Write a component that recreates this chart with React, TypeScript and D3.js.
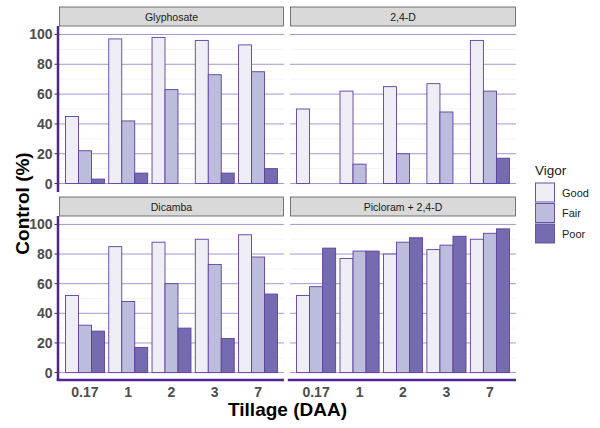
import React, { useEffect, useRef } from "react";
import { select, scaleBand, scaleLinear, scaleOrdinal, range } from "d3";

const W = 600;
const H = 428;

const TILLAGE = ["0.17", "1", "2", "3", "7"];
const VIGOR = ["Good", "Fair", "Poor"];
const HERBICIDES = ["Glyphosate", "2,4-D", "Dicamba", "Picloram + 2,4-D"];

// control (%) per herbicide, one array per vigor class, in TILLAGE order
const GLYPHOSATE_GOOD = [45, 97, 98, 96, 93];
const GLYPHOSATE_FAIR = [22, 42, 63, 73, 75];
const GLYPHOSATE_POOR = [3, 7, 0, 7, 10];

const D24_GOOD = [50, 62, 65, 67, 96];
const D24_FAIR = [0, 13, 20, 48, 62];
const D24_POOR = [0, 0, 0, 0, 17];

const DICAMBA_GOOD = [52, 85, 88, 90, 93];
const DICAMBA_FAIR = [32, 48, 60, 73, 78];
const DICAMBA_POOR = [28, 17, 30, 23, 53];

const PICLORAM_GOOD = [52, 77, 80, 83, 90];
const PICLORAM_FAIR = [58, 82, 88, 86, 94];
const PICLORAM_POOR = [84, 82, 91, 92, 97];

const Y_TICKS = [0, 20, 40, 60, 80, 100];
const Y_MINOR = [10, 30, 50, 70, 90];

const SERIES: Record<string, number[][]> = {
  Glyphosate: [GLYPHOSATE_GOOD, GLYPHOSATE_FAIR, GLYPHOSATE_POOR],
  "2,4-D": [D24_GOOD, D24_FAIR, D24_POOR],
  Dicamba: [DICAMBA_GOOD, DICAMBA_FAIR, DICAMBA_POOR],
  "Picloram + 2,4-D": [PICLORAM_GOOD, PICLORAM_FAIR, PICLORAM_POOR],
};

const COLS = [
  [59, 284],
  [290, 516],
];
const ROWS = [
  { strip: 7, top: 27, bottom: 191 },
  { strip: 197, top: 217, bottom: 380 },
];
const AXIS = "#4f2390";
const FONT = "'Liberation Sans', Arial, sans-serif";

export default function App() {
  const ref = useRef<SVGSVGElement>(null);

  useEffect(() => {
    if (!ref.current) return;
    const svg = select(ref.current);
    svg.selectAll("*").remove();

    const fill = scaleOrdinal<string, string>()
      .domain(VIGOR)
      .range(["#efedf5", "#bcbddc", "#756bb1"]);

    HERBICIDES.forEach((herb, i) => {
      const [x0, x1] = COLS[i % 2];
      const row = ROWS[Math.floor(i / 2)];
      const x = scaleBand<string>()
        .domain(TILLAGE)
        .range([x0, x1])
        .paddingInner(0.1)
        .paddingOuter(0.15);
      const xv = scaleBand<string>().domain(VIGOR).range([0, x.bandwidth()]);
      const y = scaleLinear().domain([-5, 105]).range([row.bottom, row.top]);

      const g = svg.append("g");

      // strip
      g.append("rect")
        .attr("x", x0 + 0.5)
        .attr("y", row.strip)
        .attr("width", x1 - x0 - 1)
        .attr("height", row.top - row.strip - 1)
        .attr("fill", "#d9d9d9")
        .attr("stroke", "#555")
        .attr("stroke-width", 0.8);
      g.append("text")
        .attr("x", (x0 + x1) / 2)
        .attr("y", (row.strip + row.top) / 2 + 3.5)
        .attr("text-anchor", "middle")
        .attr("font-family", FONT)
        .attr("font-size", "10.5px")
        .attr("fill", "#1a1a1a")
        .text(herb);

      // grid
      g.selectAll("line.minor")
        .data(Y_MINOR)
        .join("line")
        .attr("x1", x0)
        .attr("x2", x1)
        .attr("y1", (d) => y(d))
        .attr("y2", (d) => y(d))
        .attr("stroke", "#ece9f4")
        .attr("stroke-width", 0.6);
      g.selectAll("line.major")
        .data(Y_TICKS)
        .join("line")
        .attr("x1", x0)
        .attr("x2", x1)
        .attr("y1", (d) => y(d))
        .attr("y2", (d) => y(d))
        .attr("stroke", "#a597d2")
        .attr("stroke-width", 1);

      // bars
      SERIES[herb].forEach((vals, vi) => {
        g.selectAll(`rect.bar${vi}`)
          .data(range(TILLAGE.length))
          .join("rect")
          .attr("x", (j) => (x(TILLAGE[j]) ?? 0) + (xv(VIGOR[vi]) ?? 0))
          .attr("y", (j) => y(vals[j]))
          .attr("width", xv.bandwidth())
          .attr("height", (j) => y(0) - y(vals[j]))
          .attr("fill", fill(VIGOR[vi]))
          .attr("stroke", "#5f3f9e")
          .attr("stroke-width", 0.9);
      });

      // left axis on first column
      if (i % 2 === 0) {
        g.append("line")
          .attr("x1", x0 - 1)
          .attr("x2", x0 - 1)
          .attr("y1", row.top - 1)
          .attr("y2", row.bottom + 1)
          .attr("stroke", AXIS)
          .attr("stroke-width", 2.5);
        g.selectAll("line.ytick")
          .data(Y_TICKS)
          .join("line")
          .attr("x1", x0 - 4.5)
          .attr("x2", x0 - 2)
          .attr("y1", (d) => y(d))
          .attr("y2", (d) => y(d))
          .attr("stroke", "#333")
          .attr("stroke-width", 1);
        g.selectAll("text.ylab")
          .data(Y_TICKS)
          .join("text")
          .attr("x", x0 - 6.5)
          .attr("y", (d) => y(d))
          .attr("dy", "0.36em")
          .attr("text-anchor", "end")
          .attr("font-family", FONT)
          .attr("font-weight", "bold")
          .attr("font-size", "14px")
          .attr("fill", "#4d4d4d")
          .text((d) => `${d}`);
      }

      // bottom axis on bottom row
      if (i >= 2) {
        g.append("line")
          .attr("x1", x0 - 2.2)
          .attr("x2", x1)
          .attr("y1", row.bottom)
          .attr("y2", row.bottom)
          .attr("stroke", AXIS)
          .attr("stroke-width", 2.5);
        g.selectAll("text.xlab")
          .data(TILLAGE)
          .join("text")
          .attr("x", (d) => (x(d) ?? 0) + x.bandwidth() / 2)
          .attr("y", row.bottom + 17)
          .attr("text-anchor", "middle")
          .attr("font-family", FONT)
          .attr("font-weight", "bold")
          .attr("font-size", "14px")
          .attr("fill", "#4d4d4d")
          .text((d) => d);
      }
    });

    // axis titles
    svg
      .append("text")
      .attr("x", (COLS[0][0] + COLS[1][1]) / 2)
      .attr("y", 416)
      .attr("text-anchor", "middle")
      .attr("font-family", FONT)
      .attr("font-weight", "bold")
      .attr("font-size", "19px")
      .attr("fill", "#000")
      .text("Tillage (DAA)");
    svg
      .append("text")
      .attr("transform", `translate(29,${(ROWS[0].top + ROWS[1].bottom) / 2}) rotate(-90)`)
      .attr("text-anchor", "middle")
      .attr("font-family", FONT)
      .attr("font-weight", "bold")
      .attr("font-size", "19px")
      .attr("fill", "#000")
      .text("Control (%)");

    // legend
    const lg = svg.append("g").attr("transform", "translate(535,0)");
    lg.append("text")
      .attr("x", 0)
      .attr("y", 175)
      .attr("font-family", FONT)
      .attr("font-size", "13.5px")
      .attr("fill", "#1a1a1a")
      .text("Vigor");
    const key = scaleBand<string>().domain(VIGOR).range([182.5, 244]);
    lg.selectAll("rect.key")
      .data(VIGOR)
      .join("rect")
      .attr("x", 0.5)
      .attr("y", (d) => (key(d) ?? 0) + 0.5)
      .attr("width", 19)
      .attr("height", key.bandwidth() - 1.5)
      .attr("fill", (d) => fill(d))
      .attr("stroke", "#6a51a3")
      .attr("stroke-width", 1);
    lg.selectAll("text.key")
      .data(VIGOR)
      .join("text")
      .attr("x", 27)
      .attr("y", (d) => (key(d) ?? 0) + key.bandwidth() / 2)
      .attr("dy", "0.35em")
      .attr("font-family", FONT)
      .attr("font-size", "11px")
      .attr("fill", "#1a1a1a")
      .text((d) => d);
  }, []);

  return (
    <svg
      ref={ref}
      width={W}
      height={H}
      viewBox={`0 0 ${W} ${H}`}
      style={{ position: "absolute", left: 0, top: 0, background: "#fff", display: "block" }}
    />
  );
}
